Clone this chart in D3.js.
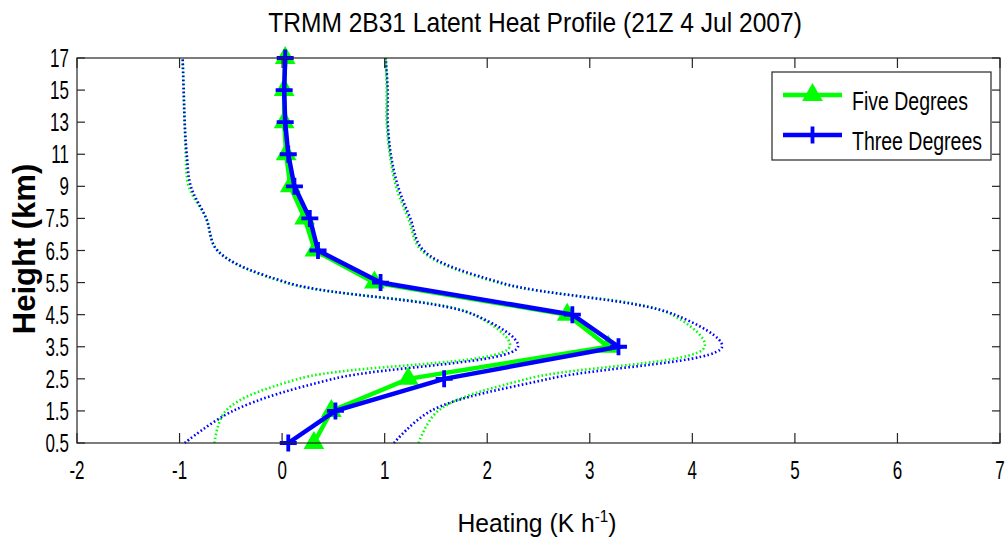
<!DOCTYPE html>
<html>
<head>
<meta charset="utf-8">
<script src="https://cdn.jsdelivr.net/npm/d3@7"></script>
<style>
  html, body { margin: 0; padding: 0; background: #fff; }
  svg text { font-family: "Liberation Sans", Arial, Helvetica, sans-serif; fill: #000; }
</style>
</head>
<body>
<svg id="chart" width="1008" height="542"></svg>
<script>
// Height levels (km) — plotted at equal spacing
const levels = ["0.5", "1.5", "2.5", "3.5", "4.5", "5.5", "6.5", "7.5", "9", "11", "13", "15", "17"];
const xTicks = [-2, -1, 0, 1, 2, 3, 4, 5, 6, 7];

// Mean latent heating (K/h) at each level
const fiveMean  = [0.31, 0.48, 1.23, 3.18, 2.78, 0.90, 0.32, 0.22, 0.08, 0.04, 0.02, 0.02, 0.03];
const threeMean = [0.06, 0.52, 1.58, 3.28, 2.83, 0.96, 0.35, 0.27, 0.12, 0.06, 0.03, 0.02, 0.03];

// Spread envelopes (dotted)
const fiveLow   = [-0.66, -0.55, 0.16, 2.22, 1.87, 0.03, -0.63, -0.74, -0.91, -0.94, -0.95, -0.96, -0.97];
const fiveHigh  = [1.33, 1.52, 2.39, 4.12, 3.80, 2.10, 1.36, 1.23, 1.11, 1.05, 1.02, 1.02, 1.01];
const threeLow  = [-0.95, -0.48, 0.50, 2.30, 1.87, 0.05, -0.63, -0.74, -0.89, -0.93, -0.95, -0.96, -0.97];
const threeHigh = [1.09, 1.45, 2.60, 4.29, 3.83, 2.13, 1.38, 1.25, 1.13, 1.06, 1.03, 1.03, 1.01];

const seriesNames = ["Five Degrees", "Three Degrees"];
const GREEN = "#00ff00", BLUE = "#0000ff";

const svg = d3.select("#chart");
const L = 77, R = 1000, T = 58, B = 443;

const x = d3.scaleLinear().domain([-2, 7]).range([L, R]);
const y = d3.scalePoint().domain(levels).range([B, T]);

// narrow text helper
function ntext(g, tx, ty, str, size, sx, anchor, weight) {
  return g.append("text")
    .attr("transform", `translate(${tx},${ty}) scale(${sx},1)`)
    .attr("text-anchor", anchor || "start")
    .style("font-size", size + "px")
    .style("font-weight", weight || "normal")
    .text(str);
}

// envelopes
const env = d3.line().x(d => x(d[1])).y(d => y(d[0])).curve(d3.curveCatmullRom.alpha(0.5));
function envelope(vals, color) {
  svg.append("path")
    .datum(levels.map((l, i) => [l, vals[i]]))
    .attr("d", env)
    .attr("fill", "none")
    .attr("stroke", color)
    .attr("stroke-width", 2.6)
    .attr("stroke-dasharray", "1.6,2.4");
}
envelope(fiveLow, GREEN);
envelope(fiveHigh, GREEN);
envelope(threeLow, BLUE);
envelope(threeHigh, BLUE);

// mean profiles
const line = d3.line().x(d => x(d[1])).y(d => y(d[0]));
function profile(vals, color, marker) {
  const pts = levels.map((l, i) => [l, vals[i]]);
  svg.append("path").datum(pts).attr("d", line)
    .attr("fill", "none").attr("stroke", color).attr("stroke-width", 4.5)
    .attr("stroke-linejoin", "miter");
  const g = svg.append("g");
  pts.forEach(p => drawMarker(g, x(p[1]), y(p[0]), color, marker));
}
function drawMarker(g, cx, cy, color, marker) {
  if (marker === "tri") {
    g.append("path")
      .attr("d", d3.symbol().type(d3.symbolTriangle).size(130)())
      .attr("transform", `translate(${cx},${cy})`)
      .attr("fill", color).attr("stroke", color).attr("stroke-width", 2);
  } else {
    g.append("path")
      .attr("d", `M${cx - 8.5},${cy}H${cx + 8.5}M${cx},${cy - 8.5}V${cy + 8.5}`)
      .attr("stroke", color).attr("stroke-width", 3.8);
  }
}
profile(fiveMean, GREEN, "tri");
profile(threeMean, BLUE, "plus");

// frame and ticks
const axisColor = "#262626";
svg.append("rect").attr("x", L).attr("y", T).attr("width", R - L).attr("height", B - T)
  .attr("fill", "none").attr("stroke", axisColor).attr("stroke-width", 1.2);

const tg = svg.append("g").attr("stroke", axisColor).attr("stroke-width", 1.2);
xTicks.forEach(v => {
  const px = x(v);
  tg.append("line").attr("x1", px).attr("x2", px).attr("y1", B).attr("y2", B - 10);
  tg.append("line").attr("x1", px).attr("x2", px).attr("y1", T).attr("y2", T + 10);
});
levels.forEach(l => {
  const py = y(l);
  tg.append("line").attr("x1", L).attr("x2", L + 8).attr("y1", py).attr("y2", py);
  tg.append("line").attr("x1", R).attr("x2", R - 8).attr("y1", py).attr("y2", py);
});

// tick labels
const lab = svg.append("g");
xTicks.forEach(v => ntext(lab, x(v), 479, String(v), 25, 0.68, "middle"));
levels.forEach(l => ntext(lab, 69, y(l) + 9, l, 25, 0.68, "end"));

// titles
ntext(svg, 535, 32, "TRMM 2B31 Latent Heat Profile (21Z 4 Jul 2007)", 27, 0.91, "middle");
svg.append("text")
  .attr("transform", "translate(35,249) rotate(-90)")
  .attr("text-anchor", "middle")
  .style("font-size", "31px").style("font-weight", "bold")
  .text("Height (km)");
const xl = svg.append("text")
  .attr("transform", "translate(537,532) scale(0.95,1)")
  .attr("text-anchor", "middle")
  .style("font-size", "26px");
xl.append("tspan").text("Heating (K h");
xl.append("tspan").attr("dy", -10).style("font-size", "16px").text("-1");
xl.append("tspan").attr("dy", 10).text(")");

// legend
const lg = svg.append("g");
lg.append("rect").attr("x", 772).attr("y", 72).attr("width", 219).attr("height", 88)
  .attr("fill", "#fff").attr("stroke", axisColor).attr("stroke-width", 1.2);
[[GREEN, "tri", 95, 110], [BLUE, "plus", 135, 150]].forEach((s, i) => {
  lg.append("line").attr("x1", 783).attr("x2", 842).attr("y1", s[2]).attr("y2", s[2])
    .attr("stroke", s[0]).attr("stroke-width", 4.5);
  drawMarker(lg, 812.5, s[2], s[0], s[1]);
  ntext(lg, 852, s[3], seriesNames[i], 25, 0.78, "start");
});
</script>
</body>
</html>
